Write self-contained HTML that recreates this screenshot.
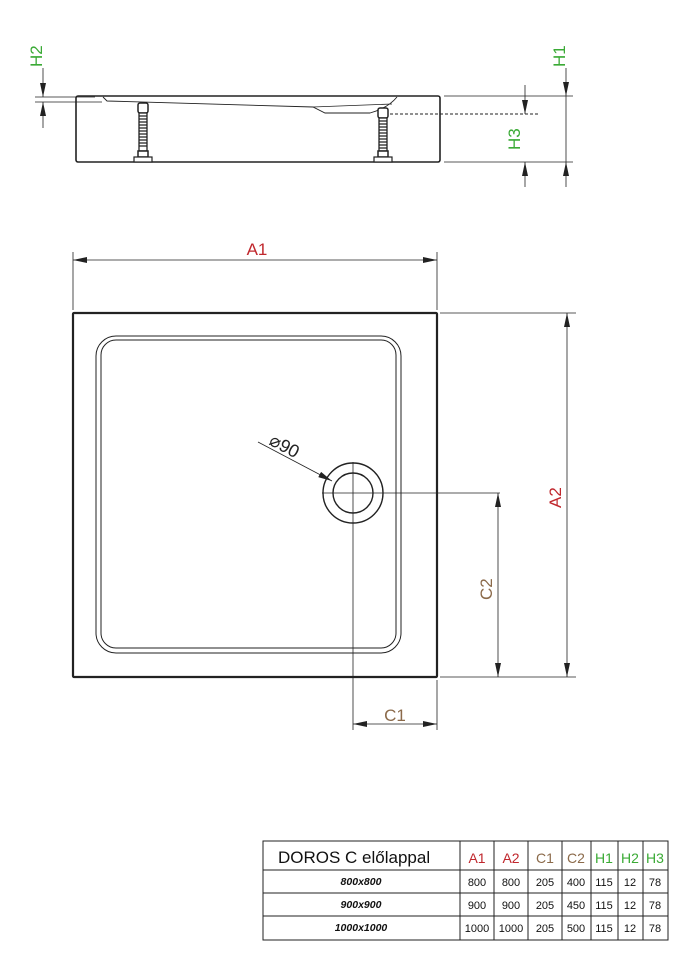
<!DOCTYPE html>
<html><head><meta charset="utf-8"><style>
html,body{margin:0;padding:0;background:#fff;}
svg{display:block;font-family:"Liberation Sans",sans-serif;}
</style></head><body>
<svg width="693" height="955" viewBox="0 0 693 955" xmlns="http://www.w3.org/2000/svg">
<defs>
<marker id="ar" viewBox="0 0 14 6" refX="14" refY="3" markerWidth="14" markerHeight="6" orient="auto-start-reverse" markerUnits="userSpaceOnUse"><path d="M0,0 L14,3 L0,6 z" fill="#222"/></marker>
</defs>
<g stroke="#222" fill="none">
<rect x="76" y="96" width="364" height="66" rx="2" stroke-width="1.6"/>
<line x1="35" y1="97" x2="95" y2="97" stroke-width="0.8"/>
<line x1="35" y1="102" x2="102" y2="102" stroke-width="0.8"/>
<path d="M103,97 L107,101 L313,107 L325,113 L370,113 Q388,108 397,97" stroke-width="0.9"/>
<line x1="313" y1="107" x2="392" y2="104" stroke-width="0.8"/>
<line x1="380" y1="114" x2="540" y2="114" stroke-dasharray="3,2" stroke-width="0.9"/>
<line x1="444" y1="96" x2="573" y2="96" stroke-width="0.7"/>
<line x1="444" y1="162" x2="573" y2="162" stroke-width="0.7"/>
</g>
<g fill="#222" stroke="#222">
<rect x="138" y="103" width="10" height="10" rx="2" fill="#fff" stroke-width="1.5"/>
<rect x="139" y="113" width="8" height="38" fill="#fff" stroke-width="1.3"/>
<path d="M139,116 h8 M139,119 h8 M139,122 h8 M139,125 h8 M139,128 h8 M139,131 h8 M139,134 h8 M139,137 h8 M139,140 h8 M139,143 h8 M139,146 h8" stroke-width="1.2"/>
<rect x="138" y="151" width="10" height="6" fill="#fff" stroke-width="1.5"/>
<rect x="134" y="157" width="18" height="5" fill="#fff" stroke-width="1.2"/>
<rect x="378" y="108" width="10" height="10" rx="2" fill="#fff" stroke-width="1.5"/>
<rect x="379" y="118" width="8" height="33" fill="#fff" stroke-width="1.3"/>
<path d="M379,121 h8 M379,124 h8 M379,127 h8 M379,130 h8 M379,133 h8 M379,136 h8 M379,139 h8 M379,142 h8 M379,145 h8 M379,148 h8" stroke-width="1.2"/>
<rect x="378" y="151" width="10" height="6" fill="#fff" stroke-width="1.5"/>
<rect x="374" y="157" width="18" height="5" fill="#fff" stroke-width="1.2"/>
</g>
<g stroke="#222" stroke-width="0.8" fill="none">
<line x1="43" y1="68" x2="43" y2="97" marker-end="url(#ar)"/>
<line x1="43" y1="102" x2="43" y2="128" marker-start="url(#ar)"/>
<line x1="525" y1="85" x2="525" y2="114" marker-end="url(#ar)"/>
<line x1="525" y1="162" x2="525" y2="187" marker-start="url(#ar)"/>
<line x1="566" y1="68" x2="566" y2="96" marker-end="url(#ar)"/>
<line x1="566" y1="96" x2="566" y2="162"/>
<line x1="566" y1="162" x2="566" y2="187" marker-start="url(#ar)"/>
</g>
<g fill="#3aaa35" font-size="17">
<text transform="translate(42,67) rotate(-90)">H2</text>
<text transform="translate(565,67) rotate(-90)">H1</text>
<text transform="translate(520,150) rotate(-90)">H3</text>
</g>
<g stroke="#222" fill="none">
<rect x="73" y="313" width="364" height="364" rx="1" stroke-width="2.2"/>
<rect x="96" y="336" width="305" height="317" rx="20" stroke-width="1"/>
<rect x="101" y="340" width="295" height="308" rx="15" stroke-width="1"/>
<circle cx="353" cy="493" r="30" stroke-width="1.4"/>
<circle cx="353" cy="493" r="20" stroke-width="1.4"/>
<line x1="322" y1="493" x2="500" y2="493" stroke-width="0.8"/>
<line x1="353" y1="462" x2="353" y2="730" stroke-width="0.8"/>
<line x1="437" y1="680" x2="437" y2="730" stroke-width="0.8"/>
<line x1="73" y1="252" x2="73" y2="310" stroke-width="0.8"/>
<line x1="437" y1="252" x2="437" y2="310" stroke-width="0.8"/>
<line x1="440" y1="313" x2="576" y2="313" stroke-width="0.8"/>
<line x1="440" y1="677" x2="576" y2="677" stroke-width="0.8"/>
</g>
<g stroke="#222" stroke-width="0.8" fill="none">
<line x1="73" y1="260" x2="437" y2="260" marker-start="url(#ar)" marker-end="url(#ar)"/>
<line x1="567" y1="313" x2="567" y2="677" marker-start="url(#ar)" marker-end="url(#ar)"/>
<line x1="498" y1="493" x2="498" y2="677" marker-start="url(#ar)" marker-end="url(#ar)"/>
<line x1="353" y1="724" x2="437" y2="724" marker-start="url(#ar)" marker-end="url(#ar)"/>
<line x1="258" y1="442" x2="332" y2="481" marker-end="url(#ar)"/>
</g>
<text x="257" y="255" fill="#c0272d" font-size="17" text-anchor="middle">A1</text>
<text transform="translate(561,508) rotate(-90)" fill="#c0272d" font-size="17">A2</text>
<text transform="translate(492,600) rotate(-90)" fill="#8b6a4a" font-size="17">C2</text>
<text x="395" y="721" fill="#8b6a4a" font-size="17" text-anchor="middle">C1</text>
<text transform="translate(268,444) rotate(28)" fill="#222" font-size="18">⌀90</text>
<g stroke="#222" fill="none" stroke-width="1">
<rect x="263" y="841" width="405" height="99"/>
<line x1="263" y1="870" x2="668" y2="870"/>
<line x1="263" y1="893" x2="668" y2="893"/>
<line x1="263" y1="916" x2="668" y2="916"/>
<line x1="460" y1="841" x2="460" y2="940"/>
<line x1="494" y1="841" x2="494" y2="940"/>
<line x1="528" y1="841" x2="528" y2="940"/>
<line x1="562" y1="841" x2="562" y2="940"/>
<line x1="591" y1="841" x2="591" y2="940"/>
<line x1="618" y1="841" x2="618" y2="940"/>
<line x1="643" y1="841" x2="643" y2="940"/>
</g>
<text x="278" y="863" font-size="17" fill="#111">DOROS C előlappal</text>
<g font-size="14" text-anchor="middle">
<text x="477" y="863" fill="#c0272d">A1</text>
<text x="511" y="863" fill="#c0272d">A2</text>
<text x="545" y="863" fill="#8b6a4a">C1</text>
<text x="576" y="863" fill="#8b6a4a">C2</text>
<text x="604" y="863" fill="#3aaa35">H1</text>
<text x="630" y="863" fill="#3aaa35">H2</text>
<text x="655" y="863" fill="#3aaa35">H3</text>
</g>
<g font-size="10.5" font-weight="bold" font-style="italic" text-anchor="middle" fill="#111">
<text x="361" y="885">800x800</text>
<text x="361" y="908">900x900</text>
<text x="361" y="931">1000x1000</text>
</g>
<g font-size="11" text-anchor="middle" fill="#111">
<text x="477" y="886">800</text><text x="511" y="886">800</text><text x="545" y="886">205</text><text x="576" y="886">400</text><text x="604" y="886">115</text><text x="630" y="886">12</text><text x="655" y="886">78</text>
<text x="477" y="909">900</text><text x="511" y="909">900</text><text x="545" y="909">205</text><text x="576" y="909">450</text><text x="604" y="909">115</text><text x="630" y="909">12</text><text x="655" y="909">78</text>
<text x="477" y="932">1000</text><text x="511" y="932">1000</text><text x="545" y="932">205</text><text x="576" y="932">500</text><text x="604" y="932">115</text><text x="630" y="932">12</text><text x="655" y="932">78</text>
</g>
</svg>
</body></html>
